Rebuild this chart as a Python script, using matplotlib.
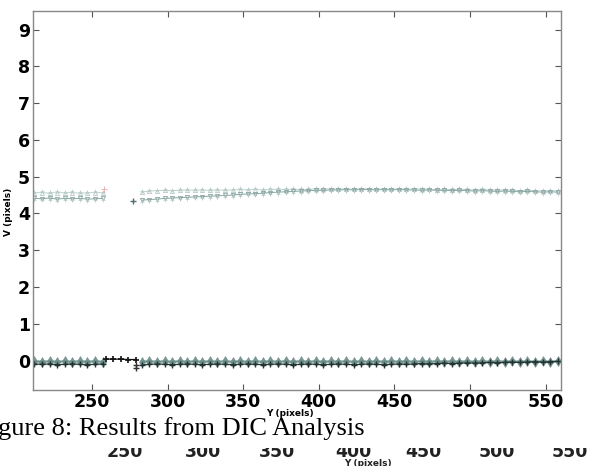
import numpy as np
import matplotlib
matplotlib.use("Agg")
import matplotlib.pyplot as plt
from matplotlib.patches import Rectangle

# x positions (Y pixels)
x_left = [212, 217, 222, 227, 232, 237, 242, 247, 252, 257]
x_gap = [259, 264, 269, 274, 279]
x_right = [283, 288, 293, 298, 303, 308, 313, 318, 323, 328,
           333, 338, 343, 348, 353, 358, 363, 368, 373, 378,
           383, 388, 393, 398, 403, 408, 413, 418, 423, 428,
           433, 438, 443, 448, 453, 458, 463, 468, 473, 478,
           483, 488, 493, 498, 503, 508, 513, 518, 523, 528,
           533, 538, 543, 548, 553, 558]

# upper band, light upper row
up1_left = [4.56, 4.57, 4.55, 4.57, 4.56, 4.57, 4.55, 4.56, 4.57, 4.56]
up1_right = [4.58, 4.61, 4.62, 4.63, 4.62, 4.63, 4.64, 4.63, 4.64, 4.63,
             4.64, 4.63, 4.64, 4.65, 4.64, 4.65, 4.64, 4.65, 4.66, 4.65,
             4.66, 4.65, 4.66, 4.67, 4.66, 4.67, 4.66, 4.67, 4.66, 4.67,
             4.67, 4.66, 4.67, 4.66, 4.67, 4.66, 4.67, 4.66, 4.66, 4.65,
             4.66, 4.65, 4.66, 4.65, 4.64, 4.65, 4.64, 4.63, 4.64, 4.63,
             4.62, 4.63, 4.62, 4.61, 4.62, 4.61]
# upper band, darker lower row
up2_left = [4.41, 4.40, 4.42, 4.39, 4.41, 4.40, 4.41, 4.39, 4.40, 4.41]
up2_right = [4.36, 4.38, 4.39, 4.41, 4.42, 4.43, 4.44, 4.45, 4.46, 4.47,
             4.48, 4.49, 4.50, 4.52, 4.53, 4.54, 4.55, 4.57, 4.58, 4.59,
             4.60, 4.61, 4.62, 4.63, 4.63, 4.64, 4.64, 4.65, 4.64, 4.65,
             4.65, 4.64, 4.65, 4.64, 4.65, 4.64, 4.64, 4.63, 4.64, 4.63,
             4.63, 4.62, 4.63, 4.62, 4.61, 4.62, 4.61, 4.60, 4.61, 4.60,
             4.59, 4.60, 4.59, 4.58, 4.59, 4.58]
odd_x = [258, 277]
odd_y = [4.66, 4.33]

# lower band
lo1_left = [-0.02, -0.03, -0.02, -0.03, -0.02, -0.03, -0.02, -0.03, -0.02, -0.03]
lo1_right = [-0.03, -0.02, -0.03, -0.02, -0.03, -0.02, -0.03, -0.02, -0.03, -0.02,
             -0.03, -0.02, -0.03, -0.02, -0.03, -0.02, -0.03, -0.02, -0.03, -0.02,
             -0.03, -0.02, -0.03, -0.02, -0.03, -0.02, -0.03, -0.02, -0.03, -0.02,
             -0.03, -0.02, -0.03, -0.02, -0.03, -0.02, -0.03, -0.02, -0.03, -0.02,
             -0.03, -0.02, -0.03, -0.02, -0.03, -0.02, -0.03, -0.02, -0.03, -0.02,
             -0.03, -0.02, -0.03, -0.02, -0.03, -0.02]
lo2_left = [-0.09, -0.10, -0.09, -0.11, -0.10, -0.09, -0.10, -0.11, -0.10, -0.09]
lo2_right = [-0.12, -0.10, -0.09, -0.10, -0.11, -0.10, -0.09, -0.10, -0.11, -0.10,
             -0.09, -0.10, -0.11, -0.10, -0.09, -0.10, -0.11, -0.10, -0.09, -0.10,
             -0.11, -0.10, -0.09, -0.10, -0.11, -0.10, -0.09, -0.10, -0.11, -0.10,
             -0.09, -0.10, -0.11, -0.10, -0.09, -0.10, -0.09, -0.08, -0.09, -0.08,
             -0.07, -0.08, -0.07, -0.06, -0.07, -0.06, -0.05, -0.06, -0.05, -0.04,
             -0.05, -0.04, -0.03, -0.04, -0.03, -0.02]
gap_y = [0.04, 0.04, 0.04, 0.03, 0.03]
extra_x = [279, 279]
extra_y = [-0.12, -0.20]

xticks = [250, 300, 350, 400, 450, 500, 550]
yticks = [0, 1, 2, 3, 4, 5, 6, 7, 8, 9]

fig = plt.figure(figsize=(5.89, 4.66), dpi=100)
ax = fig.add_axes([0.056, 0.163, 0.896, 0.813])

light = "#b4cac6"
mid = "#8aa6a1"
dark = "#4f6f6b"

for xs, ys in [(x_left, up1_left), (x_right, up1_right)]:
    ax.plot(xs, ys, color=light, lw=0.6, marker="^", ms=3, mfc="none", mew=0.6)
    ax.plot(xs, [v + 0.03 for v in ys], color=light, lw=0, marker="+", ms=3, mew=0.5)
for xs, ys in [(x_left, up2_left), (x_right, up2_right)]:
    ax.plot(xs, ys, color=mid, lw=0.7, marker="v", ms=3, mfc="none", mew=0.6)
    ax.plot(xs, [v - 0.04 for v in ys], color=light, lw=0, marker="+", ms=3, mew=0.5)
ax.plot(odd_x[:1], odd_y[:1], "+", color="#e8b4b4", ms=5, mew=0.7)
ax.plot(odd_x[1:], odd_y[1:], "+", color=dark, ms=4, mew=1.0)

for xs, ys in [(x_left, lo1_left), (x_right, lo1_right)]:
    ax.plot(xs, ys, color="#6a8c87", lw=1.6, marker="d", ms=5, mew=0.4, alpha=0.9)
for xs, ys in [(x_left, lo2_left), (x_right, lo2_right)]:
    ax.plot(xs, ys, color="#223333", lw=0.9, marker="+", ms=4, mew=1.0)
ax.plot(x_gap, gap_y, color="#111111", lw=0.9, marker="+", ms=5, mew=1.2)
ax.plot(extra_x, extra_y, "+", color="#333333", ms=4, mew=1.0)

ax.set_xlim(211, 560)
ax.set_ylim(-0.8, 9.5)
ax.set_xticks(xticks)
ax.set_yticks(yticks)
ax.tick_params(direction="in", top=True, right=True, length=4, width=0.8,
               color="#555555", labelsize=12.5, pad=2)
for lab in ax.get_xticklabels() + ax.get_yticklabels():
    lab.set_fontweight("bold")
for s in ax.spines.values():
    s.set_color("#888888")
    s.set_linewidth(1.0)

ax.set_ylabel("V (pixels)", fontsize=6.5, fontweight="bold", labelpad=0)
ax.yaxis.set_label_coords(-0.038, 0.47)
ax.set_xlabel("Y (pixels)", fontsize=6.5, fontweight="bold", labelpad=0)
ax.xaxis.set_label_coords(0.487, -0.05)

# ghost copy of tick labels below the caption (scan artefact)
ghost_x = [125, 203, 277, 353, 423, 497, 570]
for gx, t in zip(ghost_x, xticks):
    fig.text(gx / 589, 1 - 452 / 466, str(t), ha="center", va="center",
             fontsize=12.5, fontweight="bold", color="#222222", zorder=1)
fig.text(368 / 589, 1 - 464 / 466, "Y (pixels)", ha="center", va="center",
         fontsize=6.5, fontweight="bold", color="#222222", zorder=1)
fig.patches.append(Rectangle((0, 1 - 448 / 466), 1, 30 / 466,
                             transform=fig.transFigure, facecolor="white",
                             edgecolor="none", zorder=2))
fig.text(-24 / 589, 1 - 429 / 466, "Figure 8: Results from DIC Analysis",
         ha="left", va="center", fontsize=19, family="Liberation Serif",
         color="black", zorder=3)

fig.savefig("out.png", dpi=100)
